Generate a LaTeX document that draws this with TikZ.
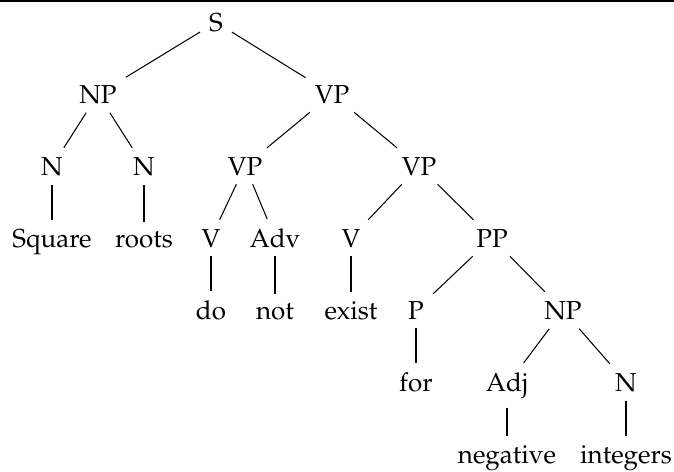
\documentclass[tikz,border=0pt]{standalone}
\usepackage[T1]{fontenc}
\usepackage{mathpazo}
\tikzset{
  lbl/.style={anchor=base, font=\normalsize},
  branch/.style={line width=0.4pt},
  rule/.style={line width=0.7pt}
}
\begin{document}
\begin{tikzpicture}[x=0.3846pt, y=-0.3846pt]
  \path[use as bounding box] (0,0) rectangle (674,471);
  % rule across the top
  \coordinate (rl) at (0,1.3);
  \coordinate (rr) at (674,1.3);
  \draw[rule] (rl) -- (rr);

  % level 0
  \node[lbl] (s) at (216,31) {S};
  % level 1
  \node[lbl] (np1) at (98,103) {NP};
  \node[lbl] (vp1) at (332,103) {VP};
  % level 2
  \node[lbl] (n1) at (52,175) {N};
  \node[lbl] (n2) at (144,175) {N};
  \node[lbl] (vp2) at (245,175) {VP};
  \node[lbl] (vp3) at (419,175) {VP};
  % level 3
  \node[lbl] (w1) at (52,247) {Square};
  \node[lbl] (w2) at (144,247) {roots};
  \node[lbl] (v1) at (211,247) {V};
  \node[lbl] (adv) at (275,247) {Adv};
  \node[lbl] (v2) at (351,247) {V};
  \node[lbl] (pp) at (492,247) {PP};
  % level 4
  \node[lbl] (w3) at (211,319) {do};
  \node[lbl] (w4) at (275,319) {not};
  \node[lbl] (w5) at (351,319) {exist};
  \node[lbl] (p) at (416,319) {P};
  \node[lbl] (np2) at (563,319) {NP};
  % level 5
  \node[lbl] (w6) at (416,391) {for};
  \node[lbl] (adj) at (507,391) {Adj};
  \node[lbl] (n3) at (626,391) {N};
  % level 6
  \node[lbl] (w7) at (507,463) {negative};
  \node[lbl] (w8) at (626,463) {integers};

  % branches
  \draw[branch] (s) -- (np1);
  \draw[branch] (s) -- (vp1);
  \draw[branch] (np1) -- (n1);
  \draw[branch] (np1) -- (n2);
  \draw[branch] (vp1) -- (vp2);
  \draw[branch] (vp1) -- (vp3);
  \draw[branch] (n1) -- (w1);
  \draw[branch] (n2) -- (w2);
  \draw[branch] (vp2) -- (v1);
  \draw[branch] (vp2) -- (adv);
  \draw[branch] (vp3) -- (v2);
  \draw[branch] (vp3) -- (pp);
  \draw[branch] (v1) -- (w3);
  \draw[branch] (adv) -- (w4);
  \draw[branch] (v2) -- (w5);
  \draw[branch] (pp) -- (p);
  \draw[branch] (pp) -- (np2);
  \draw[branch] (p) -- (w6);
  \draw[branch] (np2) -- (adj);
  \draw[branch] (np2) -- (n3);
  \draw[branch] (adj) -- (w7);
  \draw[branch] (n3) -- (w8);
\end{tikzpicture}
\end{document}
